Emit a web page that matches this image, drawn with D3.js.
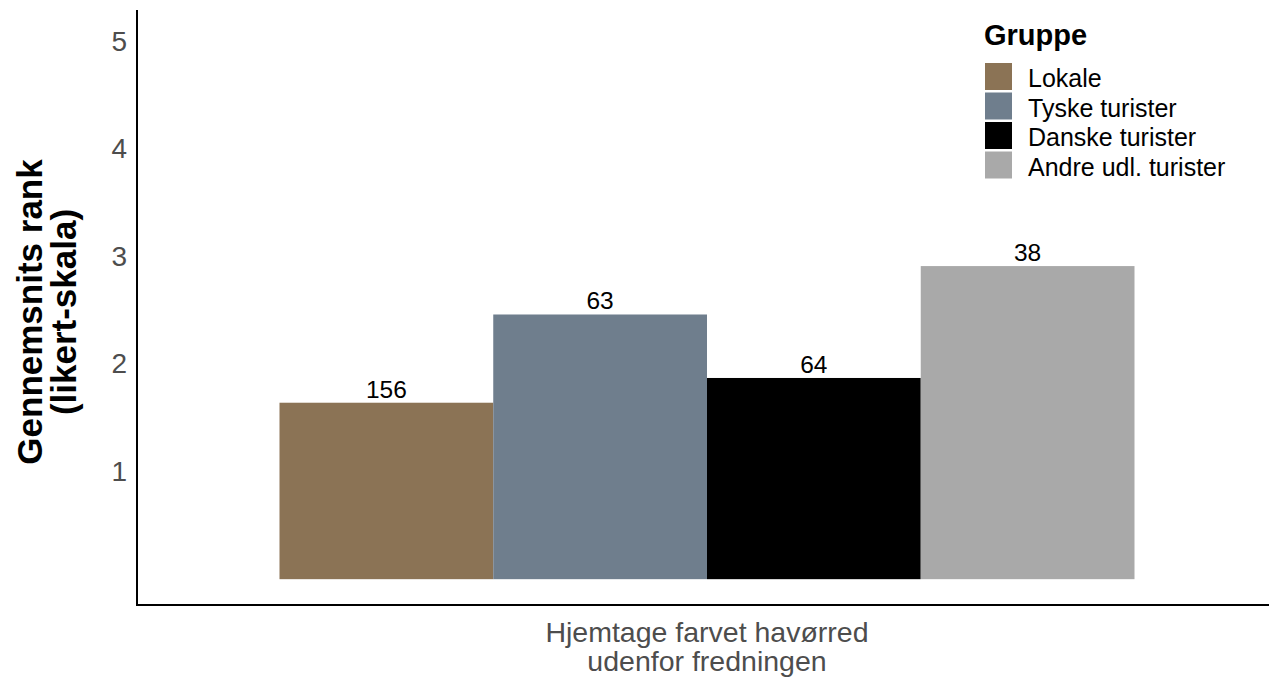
<!DOCTYPE html>
<html><head><meta charset="utf-8">
<script src="https://cdn.jsdelivr.net/npm/d3@7"></script>
<style>body{margin:0;background:#fff;} text{font-family:"Liberation Sans",Arial,sans-serif;}</style>
</head><body>
<svg id="c" width="1269" height="677"></svg>
<script>
const category = ["Hjemtage farvet havørred", "udenfor fredningen"];
const groups = ["Lokale", "Tyske turister", "Danske turister", "Andre udl. turister"];
const values = [1.64, 2.46, 1.87, 2.91];
const counts = ["156", "63", "64", "38"];
const colors = ["#8B7355", "#6F7E8D", "#000000", "#A9A9A9"];
const yTicks = [1, 2, 3, 4, 5];

const svg = d3.select("#c");
const pLeft = 137, pRight = 1277, pTop = 10, pBottom = 605;
const y = d3.scaleLinear().domain([-0.24, 5.29]).range([pBottom, pTop]);
// one category centred in the panel; bar group width 0.9 of 1.2 units
const groupWidth = (pRight - pLeft) * 0.9 / 1.2;
const cx = (pLeft + pRight) / 2;
const xg = d3.scaleBand().domain(groups).range([cx - groupWidth / 2, cx + groupWidth / 2]);

// bars
svg.selectAll("rect.bar").data(groups).enter().append("rect")
  .attr("x", d => xg(d)).attr("width", xg.bandwidth())
  .attr("y", (d, i) => y(values[i])).attr("height", (d, i) => y(0) - y(values[i]))
  .attr("fill", (d, i) => colors[i]);

// labels
svg.selectAll("text.lab").data(groups).enter().append("text")
  .attr("x", d => xg(d) + xg.bandwidth() / 2)
  .attr("y", (d, i) => y(values[i]) - 5)
  .attr("text-anchor", "middle").attr("font-size", 24.5).attr("fill", "#000")
  .text((d, i) => counts[i]);

// y axis
const yAxis = d3.axisLeft(y).tickValues(yTicks).tickSize(0).tickPadding(10).tickFormat(d3.format("d"));
const gy = svg.append("g").attr("transform", `translate(${pLeft},0)`).call(yAxis);
gy.select(".domain").remove();
gy.selectAll("text").attr("font-size", 28).attr("fill", "#4D4D4D").style("font-family", "Liberation Sans, Arial, sans-serif");

// axis lines
svg.append("line").attr("x1", pLeft).attr("x2", pLeft).attr("y1", pTop).attr("y2", pBottom + 1)
  .attr("stroke", "#000").attr("stroke-width", 2);
svg.append("line").attr("x1", pLeft - 1).attr("x2", 1269).attr("y1", pBottom).attr("y2", pBottom)
  .attr("stroke", "#000").attr("stroke-width", 2);

// x labels
svg.append("text").attr("x", cx).attr("y", 642).attr("text-anchor", "middle")
  .attr("font-size", 28.5).attr("fill", "#4D4D4D").text(category[0]);
svg.append("text").attr("x", cx).attr("y", 671).attr("text-anchor", "middle")
  .attr("font-size", 28.5).attr("fill", "#4D4D4D").text(category[1]);

// y title
const yt = svg.append("g").attr("transform", `translate(0,312) rotate(-90)`);
yt.append("text").attr("x", 0).attr("y", 42).attr("text-anchor", "middle")
  .attr("font-size", 35).attr("font-weight", "bold").text("Gennemsnits rank");
yt.append("text").attr("x", 0).attr("y", 76).attr("text-anchor", "middle")
  .attr("font-size", 35).attr("font-weight", "bold").text("(likert-skala)");

// legend
svg.append("text").attr("x", 984).attr("y", 45).attr("font-size", 29).attr("font-weight", "bold").text("Gruppe");
const lg = svg.selectAll("g.leg").data(groups).enter().append("g")
  .attr("transform", (d, i) => `translate(985,${63 + i * 29.5})`);
lg.append("rect").attr("width", 27).attr("height", 27).attr("fill", (d, i) => colors[i]);
lg.append("text").attr("x", 43).attr("y", 24).attr("font-size", 25).attr("fill", "#000").text(d => d);
</script>
</body></html>
